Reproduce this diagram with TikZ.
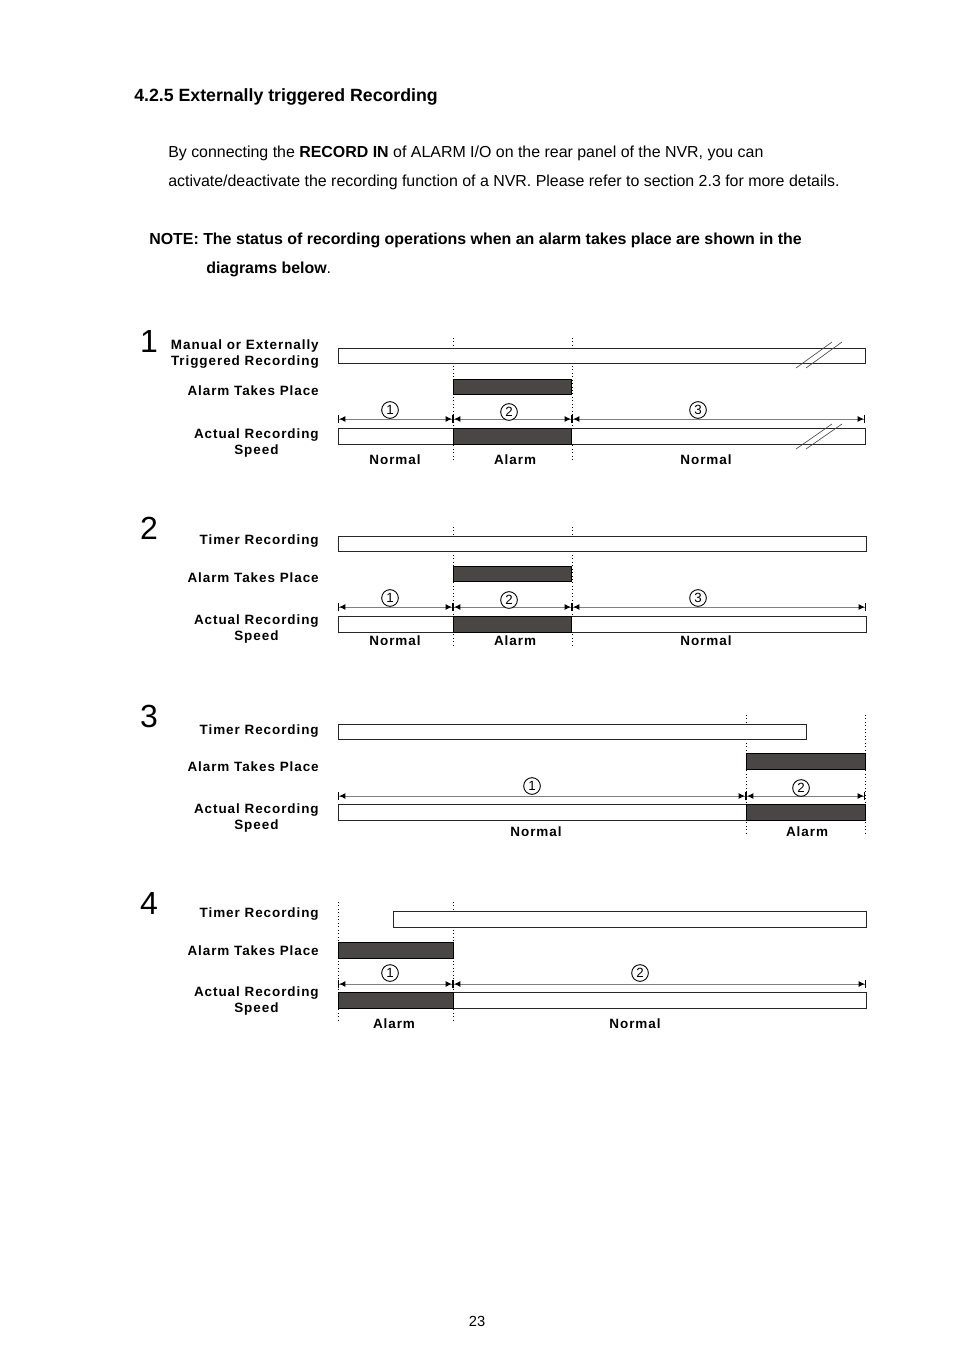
\documentclass[tikz,border=0pt]{standalone}
\usepackage{fontspec}
\setmainfont{Liberation Sans}
\usepackage{xcolor}
\definecolor{alarmgrey}{HTML}{4A4646}
\definecolor{dimgrey}{gray}{0.5}
\usetikzlibrary{arrows.meta,positioning}

\begin{document}
\begin{tikzpicture}[
    x=0.75pt, y=-0.75pt,
    bar/.style={draw=black!85, line width=0.7pt, fill=white},
    alarmbar/.style={draw=black, line width=0.7pt, fill=alarmgrey},
    timeline/.style={dotted, line width=0.6pt},
    brk/.style={draw=black!70, line width=0.5pt},
    dim/.style={draw=dimgrey, line width=0.7pt, {Bar[width=6pt,line width=1pt,color=black]Latex[length=4.5pt,width=4.5pt,color=black]}-{Latex[length=4.5pt,width=4.5pt,color=black]Bar[width=6pt,line width=1pt,color=black]}},
    num/.style={circle, draw, line width=0.7pt, inner sep=0pt, minimum size=12.5pt, fill=white, font=\fontsize{10}{10}\selectfont},
    rowlabel/.style={anchor=east, inner sep=0pt, align=center, font=\fontsize{10.1}{12}\selectfont\bfseries\addfontfeature{LetterSpace=7}},
    state/.style={inner sep=0pt, font=\fontsize{10.1}{12}\selectfont\bfseries\addfontfeature{LetterSpace=7}},
    bignum/.style={inner sep=0pt, font=\fontsize{24}{24}\selectfont},
    body/.style={anchor=west, inner sep=0pt, font=\fontsize{11.95}{14}\selectfont}
  ]
    \useasboundingbox (0,0) rectangle (954,1351);

    % Page text
    \node [body, font=\fontsize{13.3}{15}\selectfont\bfseries] (title) at (134,97) {4.2.5 Externally triggered Recording};
    \node [body] (para1) at (168,153) {By connecting the \textbf{RECORD IN} of ALARM I/O on the rear panel of the NVR, you can};
    \node [body] (para2) at (168,182) {activate/deactivate the recording function of a NVR. Please refer to section 2.3 for more details.};
    \node [body, font=\fontsize{11.95}{14}\selectfont\bfseries] (note1) at (149,240) {NOTE: The status of recording operations when an alarm takes place are shown in the};
    \node [body] (note2) at (206,269) {\textbf{diagrams below}.};
    \node [inner sep=0pt, font=\fontsize{11}{12}\selectfont] (page) at (477,1321) {23};

    % Diagram 1 - Manual or externally triggered recording
    \node [bignum] (n1) at (149,341) {1};
    \node [rowlabel, align=right] (d1rec) at (319,354) {Manual or Externally\\Triggered Recording};
    \node [rowlabel] (d1alm) at (319,391) {Alarm Takes Place};
    \node [rowlabel] (d1act) at (319,443.5) {Actual Recording\\Speed};
    \draw [timeline] (453,338) -- (453,462);
    \draw [timeline] (572,338) -- (572,462);
    \draw [bar] (338,348) rectangle (865,363);
    \draw [alarmbar] (453,379) rectangle (571,394);
    \draw [bar] (338,428) rectangle (865,444);
    \draw [alarmbar] (453,428) rectangle (571,444);
    \draw [brk] (796,368) -- (832,342) (806,368) -- (842,342);
    \draw [brk] (796,449) -- (832,424) (806,449) -- (842,424);
    \coordinate (d1a) at (338,419);
    \coordinate (d1b) at (453,419);
    \coordinate (d1c) at (572,419);
    \coordinate (d1d) at (865,419);
    \path [dim] (d1a) -- (d1b);
    \path [dim] (d1b) -- (d1c);
    \path [dim] (d1c) -- (d1d);
    \node [num] (d1one) at (390,410) {1};
    \node [num] (d1two) at (509,412) {2};
    \node [num] (d1three) at (698,410) {3};
    \node [state] (d1s1) at (395,460) {Normal};
    \node [state] (d1s2) at (515,460) {Alarm};
    \node [state] (d1s3) at (706,460) {Normal};

    % Diagram 2 - Timer recording, alarm inside
    \node [bignum] (n2) at (149,528) {2};
    \node [rowlabel] (d2rec) at (319,541) {Timer Recording};
    \node [rowlabel] (d2alm) at (319,578) {Alarm Takes Place};
    \node [rowlabel] (d2act) at (319,629) {Actual Recording\\Speed};
    \draw [timeline] (453,527) -- (453,645);
    \draw [timeline] (572,527) -- (572,645);
    \draw [bar] (338,536) rectangle (866,551);
    \draw [alarmbar] (453,566) rectangle (571,581);
    \draw [bar] (338,616) rectangle (866,632);
    \draw [alarmbar] (453,616) rectangle (571,632);
    \coordinate (d2a) at (338,607);
    \coordinate (d2b) at (453,607);
    \coordinate (d2c) at (572,607);
    \coordinate (d2d) at (866,607);
    \path [dim] (d2a) -- (d2b);
    \path [dim] (d2b) -- (d2c);
    \path [dim] (d2c) -- (d2d);
    \node [num] (d2one) at (390,598) {1};
    \node [num] (d2two) at (509,600) {2};
    \node [num] (d2three) at (698,598) {3};
    \node [state] (d2s1) at (395,641) {Normal};
    \node [state] (d2s2) at (515,641) {Alarm};
    \node [state] (d2s3) at (706,641) {Normal};

    % Diagram 3 - Timer recording ends, alarm at the end
    \node [bignum] (n3) at (149,716) {3};
    \node [rowlabel] (d3rec) at (319,731) {Timer Recording};
    \node [rowlabel] (d3alm) at (319,767) {Alarm Takes Place};
    \node [rowlabel] (d3act) at (319,818.5) {Actual Recording\\Speed};
    \draw [timeline] (746,715) -- (746,833);
    \draw [timeline] (865,715) -- (865,833);
    \draw [bar] (338,724) rectangle (806,739);
    \draw [alarmbar] (746,753) rectangle (865,769);
    \draw [bar] (338,804) rectangle (865,820);
    \draw [alarmbar] (746,804) rectangle (865,820);
    \coordinate (d3a) at (338,796);
    \coordinate (d3b) at (746,796);
    \coordinate (d3c) at (865,796);
    \path [dim] (d3a) -- (d3b);
    \path [dim] (d3b) -- (d3c);
    \node [num] (d3one) at (532,786) {1};
    \node [num] (d3two) at (801,788) {2};
    \node [state] (d3s1) at (536,832) {Normal};
    \node [state] (d3s2) at (807,832) {Alarm};

    % Diagram 4 - Alarm before timer recording
    \node [bignum] (n4) at (149,903) {4};
    \node [rowlabel] (d4rec) at (319,914) {Timer Recording};
    \node [rowlabel] (d4alm) at (319,951) {Alarm Takes Place};
    \node [rowlabel] (d4act) at (319,1001.5) {Actual Recording\\Speed};
    \draw [timeline] (338,902) -- (338,1020);
    \draw [timeline] (453,902) -- (453,1020);
    \draw [bar] (393,911) rectangle (866,927);
    \draw [alarmbar] (338,942) rectangle (453,958);
    \draw [bar] (338,992) rectangle (866,1008);
    \draw [alarmbar] (338,992) rectangle (453,1008);
    \coordinate (d4a) at (338,984);
    \coordinate (d4b) at (453,984);
    \coordinate (d4c) at (866,984);
    \path [dim] (d4a) -- (d4b);
    \path [dim] (d4b) -- (d4c);
    \node [num] (d4one) at (390,973) {1};
    \node [num] (d4two) at (640,973) {2};
    \node [state] (d4s1) at (394,1024) {Alarm};
    \node [state] (d4s2) at (635,1024) {Normal};

\end{tikzpicture}
\end{document}
